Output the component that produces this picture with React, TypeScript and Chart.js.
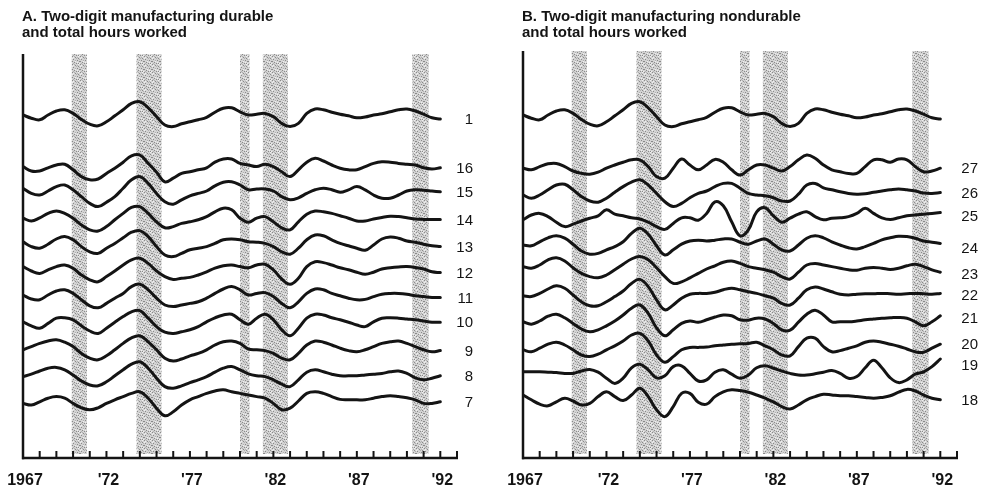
import { useEffect, useRef } from "react";
import { Chart, registerables } from "chart.js";

Chart.register(...registerables);

// Half-year sample grid shared by every series, 1967.0 … 1992.0
const YEARS: number[] = Array.from({ length: 51 }, (_, i) => 1967 + i * 0.5);

// Recession periods (shaded bands), in fractional years
const RECESSION_START = [1969.92, 1973.8, 1980.0, 1981.37, 1990.32];
const RECESSION_END = [1970.83, 1975.3, 1980.57, 1982.87, 1991.3];

// Axis ticks and labels
const TICK_YEARS: number[] = Array.from({ length: 26 }, (_, i) => 1968 + i);
const LABEL_YEARS = [1967, 1972, 1977, 1982, 1987, 1992];
const LABEL_TEXT = ["1967", "'72", "'77", "'82", "'87", "'92"];

// Stacked cyclical hours-worked indexes (arbitrary stacked units)
const TOTAL = [85.5, 84.7, 84.3, 85.5, 86.5, 86.8, 85.9, 84.4, 83.2, 82.8, 83.8, 85.3, 86.8, 88.4, 88.8, 87.3, 85.1, 83.0, 82.6, 83.3, 83.8, 84.3, 84.9, 86.2, 87.2, 87.3, 86.3, 85.5, 85.7, 85.9, 85.1, 83.4, 82.6, 83.4, 85.9, 87.0, 86.8, 86.2, 85.7, 85.3, 84.8, 85.0, 85.5, 85.8, 86.3, 86.8, 87.0, 86.5, 85.7, 84.8, 84.5];

// Durable goods industries
const S16 = [72.6, 71.5, 71.5, 72.3, 73.0, 73.2, 71.8, 70.1, 69.3, 69.5, 70.9, 72.2, 73.7, 75.3, 75.5, 73.4, 71.2, 68.8, 69.7, 70.9, 71.3, 71.8, 72.3, 73.7, 74.5, 74.5, 73.4, 73.0, 72.6, 73.2, 72.6, 71.3, 70.1, 71.8, 73.7, 74.7, 74.0, 73.0, 72.2, 71.8, 71.8, 72.6, 73.4, 73.8, 73.7, 73.4, 73.2, 73.0, 72.3, 72.0, 72.3];
const S15 = [67.2, 65.9, 65.5, 66.5, 67.6, 68.0, 66.8, 65.1, 63.4, 62.6, 63.7, 65.1, 67.2, 69.3, 70.1, 68.4, 65.9, 63.8, 63.2, 64.3, 65.3, 65.9, 66.5, 67.8, 68.7, 68.8, 68.0, 66.8, 67.0, 67.0, 66.5, 65.1, 64.3, 64.8, 65.9, 66.8, 67.2, 66.8, 66.2, 66.8, 67.6, 66.8, 65.5, 64.7, 64.7, 65.5, 66.5, 66.8, 66.7, 66.5, 66.3];
const S14 = [59.7, 59.0, 59.8, 60.9, 61.5, 60.9, 59.7, 58.0, 56.8, 56.5, 57.6, 59.3, 60.9, 62.4, 62.6, 60.9, 58.8, 57.3, 57.6, 58.4, 58.8, 59.3, 60.1, 61.3, 62.2, 61.8, 59.7, 58.7, 59.7, 60.1, 58.8, 57.3, 56.8, 58.8, 60.7, 61.5, 61.3, 60.9, 60.3, 59.7, 59.0, 59.0, 59.5, 59.9, 60.2, 60.1, 59.8, 59.5, 59.4, 59.4, 59.4];
const S13 = [53.8, 52.6, 52.2, 53.2, 54.5, 55.1, 54.3, 52.6, 51.3, 50.9, 52.2, 53.4, 54.8, 56.2, 56.6, 55.1, 52.6, 50.5, 50.1, 50.9, 51.8, 52.2, 52.6, 53.4, 54.3, 54.5, 54.3, 53.8, 53.7, 53.4, 52.6, 51.3, 50.7, 52.2, 54.3, 55.5, 55.3, 54.3, 53.4, 52.8, 52.2, 51.7, 53.0, 54.5, 55.0, 54.7, 54.0, 53.7, 53.2, 52.8, 52.6];
const S12 = [47.6, 46.5, 45.9, 46.8, 47.6, 48.0, 47.2, 45.5, 44.3, 43.8, 45.1, 46.5, 48.0, 49.3, 49.7, 48.4, 46.5, 45.1, 44.4, 44.7, 44.9, 45.5, 46.3, 47.2, 47.8, 48.0, 47.6, 47.3, 48.0, 48.2, 46.8, 44.5, 43.2, 44.7, 47.6, 48.8, 48.6, 48.0, 47.3, 46.8, 46.2, 45.7, 46.2, 47.0, 47.3, 47.5, 47.6, 47.4, 47.0, 46.3, 46.1];
const S11 = [40.5, 39.5, 39.3, 40.5, 41.5, 41.8, 40.9, 39.3, 37.8, 37.3, 38.4, 39.7, 40.9, 42.6, 43.2, 41.8, 39.7, 38.0, 37.6, 38.0, 38.4, 38.8, 39.7, 40.9, 42.0, 42.6, 41.8, 40.5, 40.9, 41.1, 40.1, 38.4, 37.3, 38.8, 40.9, 42.0, 41.8, 40.9, 40.3, 39.7, 39.3, 39.4, 40.1, 40.7, 40.9, 40.9, 40.7, 40.3, 40.1, 39.9, 39.9];
const S10 = [33.8, 32.8, 32.2, 33.4, 34.7, 34.8, 34.3, 32.8, 31.5, 30.9, 32.2, 33.7, 35.1, 36.3, 36.6, 34.7, 32.6, 31.2, 30.9, 31.3, 31.8, 32.6, 33.8, 34.8, 35.5, 35.7, 34.3, 33.2, 34.7, 35.7, 34.3, 31.8, 30.3, 32.2, 34.7, 35.7, 35.5, 34.8, 34.3, 33.7, 33.0, 32.6, 33.8, 34.7, 34.8, 34.7, 34.5, 34.3, 34.0, 33.7, 33.7];
const S9 = [26.8, 27.6, 28.4, 29.0, 29.3, 28.7, 27.6, 25.9, 24.7, 24.3, 25.3, 26.8, 28.4, 29.8, 30.3, 28.8, 26.8, 24.7, 24.0, 24.5, 25.3, 25.9, 26.8, 28.0, 28.8, 29.0, 28.4, 27.0, 26.8, 26.6, 25.9, 24.7, 24.3, 25.9, 28.0, 29.0, 28.7, 28.0, 27.2, 26.6, 26.3, 26.8, 27.6, 28.4, 28.8, 29.0, 28.4, 27.6, 26.8, 26.3, 26.6];
const S8 = [20.1, 20.7, 21.5, 22.2, 22.4, 21.8, 20.5, 19.0, 18.0, 17.8, 18.8, 20.3, 21.8, 23.2, 23.8, 22.2, 19.7, 17.6, 17.2, 17.8, 18.6, 19.3, 20.1, 21.2, 22.2, 22.6, 21.8, 20.8, 20.3, 20.1, 19.3, 18.2, 17.6, 19.3, 21.2, 21.8, 21.3, 20.7, 20.3, 20.3, 20.3, 20.5, 20.7, 20.9, 21.3, 21.5, 20.9, 19.8, 19.3, 19.7, 20.3];
const S7 = [13.4, 13.0, 13.8, 14.7, 15.1, 14.7, 13.4, 12.3, 11.8, 12.3, 13.4, 14.3, 15.1, 15.9, 16.3, 14.7, 12.2, 10.3, 11.3, 13.0, 14.3, 15.1, 15.9, 16.5, 16.8, 16.3, 15.9, 15.5, 15.1, 14.7, 13.4, 11.8, 12.2, 14.0, 15.9, 16.3, 15.9, 15.1, 14.4, 14.3, 14.3, 14.3, 14.7, 15.1, 15.3, 15.1, 14.8, 14.3, 13.4, 13.4, 13.8];

// Nondurable goods industries
const S27 = [72.2, 71.8, 72.6, 73.3, 73.4, 72.6, 71.5, 70.9, 70.7, 71.2, 72.2, 73.0, 73.7, 74.3, 74.3, 72.6, 70.1, 69.7, 72.2, 74.5, 73.0, 71.8, 73.0, 74.4, 73.7, 71.8, 70.5, 71.8, 73.0, 73.0, 72.2, 71.5, 72.6, 74.3, 75.5, 74.7, 73.0, 71.8, 71.3, 70.9, 70.9, 72.6, 74.3, 74.3, 73.7, 74.5, 74.3, 72.6, 71.3, 71.5, 72.2];
const S26 = [65.5, 64.7, 65.5, 66.8, 68.0, 68.2, 66.8, 65.1, 64.0, 63.7, 64.7, 66.2, 67.6, 68.7, 69.3, 68.0, 65.9, 63.8, 62.6, 63.4, 64.8, 65.9, 66.5, 67.6, 68.4, 68.4, 67.2, 65.9, 65.5, 65.3, 64.8, 64.0, 64.0, 65.7, 68.0, 68.4, 67.3, 66.8, 66.3, 65.9, 65.7, 65.8, 66.2, 66.5, 66.8, 67.0, 66.8, 66.5, 66.0, 65.9, 66.1];
const S25 = [59.3, 60.5, 60.9, 60.1, 58.7, 57.6, 58.2, 59.0, 59.7, 60.3, 61.8, 60.7, 60.3, 59.8, 59.5, 58.7, 57.6, 56.9, 58.4, 59.8, 59.8, 59.2, 60.9, 63.8, 62.8, 58.8, 55.3, 56.8, 61.3, 62.3, 60.3, 58.7, 59.7, 60.7, 61.3, 60.1, 59.3, 59.7, 59.8, 60.1, 60.9, 62.2, 60.9, 59.8, 59.4, 59.8, 60.3, 60.5, 60.7, 60.9, 61.1];
const S24 = [53.0, 52.8, 53.8, 54.8, 55.3, 54.7, 53.2, 51.5, 50.7, 50.9, 51.8, 52.6, 53.8, 55.9, 57.2, 55.7, 52.8, 50.5, 51.8, 53.2, 54.0, 54.2, 54.0, 54.2, 54.5, 54.5, 53.7, 53.2, 54.0, 54.5, 53.2, 51.8, 51.5, 53.0, 54.7, 55.3, 54.8, 53.8, 53.0, 52.3, 52.0, 52.6, 53.4, 54.3, 54.8, 55.2, 55.1, 54.7, 54.0, 53.7, 53.4];
const S23 = [47.6, 47.2, 48.0, 49.3, 49.8, 49.0, 47.3, 45.9, 45.1, 44.8, 45.5, 46.8, 48.2, 49.5, 50.1, 49.3, 47.3, 45.1, 43.4, 43.8, 44.8, 45.9, 47.0, 47.8, 48.7, 49.0, 48.4, 47.6, 47.2, 46.8, 46.2, 45.1, 44.5, 46.2, 48.0, 48.4, 48.0, 47.6, 47.2, 46.8, 46.7, 47.2, 47.4, 47.2, 46.9, 47.2, 47.8, 48.2, 47.6, 46.8, 46.2];
const S22 = [40.3, 40.1, 40.9, 42.0, 42.8, 42.2, 40.5, 38.8, 37.8, 37.8, 38.8, 40.1, 41.5, 43.4, 44.4, 42.6, 39.3, 36.8, 38.0, 39.7, 40.7, 40.9, 40.9, 41.2, 41.8, 42.2, 41.8, 41.3, 40.9, 40.3, 39.7, 38.4, 38.0, 39.7, 41.8, 42.5, 42.0, 41.3, 40.7, 40.5, 40.7, 40.8, 40.8, 40.9, 40.8, 40.7, 40.8, 40.9, 40.8, 40.7, 40.9];
const S21 = [33.8, 33.2, 34.0, 35.2, 35.7, 34.8, 33.4, 32.0, 31.3, 31.8, 32.8, 34.0, 35.5, 37.2, 38.0, 35.9, 32.3, 30.3, 31.8, 33.4, 34.0, 33.7, 34.3, 35.0, 35.5, 35.3, 34.3, 34.2, 34.7, 34.5, 33.4, 31.8, 31.7, 33.7, 35.7, 36.7, 35.5, 33.8, 33.8, 33.8, 34.0, 34.3, 34.5, 34.7, 34.8, 34.9, 34.7, 33.8, 32.8, 33.8, 35.3];
const S20 = [26.8, 26.3, 27.2, 28.2, 28.7, 28.0, 26.8, 25.5, 25.1, 25.7, 26.8, 27.8, 29.0, 30.5, 30.9, 29.0, 25.5, 23.7, 25.1, 26.8, 27.4, 27.4, 27.5, 27.8, 28.0, 28.2, 28.3, 28.4, 28.7, 27.8, 26.8, 25.5, 25.3, 27.6, 29.7, 29.7, 27.6, 26.3, 26.6, 27.2, 27.8, 28.7, 29.0, 28.7, 28.2, 27.7, 27.0, 26.3, 26.2, 27.2, 28.2];
const S19 = [21.3, 21.3, 21.3, 21.2, 21.1, 20.9, 20.9, 21.5, 21.9, 21.2, 19.7, 18.4, 19.7, 22.3, 23.2, 21.8, 19.8, 20.3, 22.6, 22.8, 20.9, 19.0, 19.3, 21.2, 21.8, 20.7, 19.7, 20.5, 22.3, 22.8, 22.2, 21.5, 20.9, 20.5, 20.5, 20.8, 21.2, 21.6, 20.9, 19.7, 20.1, 22.3, 24.2, 22.3, 19.8, 18.6, 19.3, 20.7, 21.3, 22.6, 24.5];
const S18 = [15.5, 14.3, 13.2, 12.8, 13.8, 14.7, 14.0, 13.0, 13.4, 15.1, 16.3, 15.1, 14.1, 15.5, 17.2, 15.1, 11.8, 10.1, 12.6, 15.9, 15.9, 13.7, 13.2, 15.1, 16.3, 16.8, 16.6, 16.2, 15.5, 14.7, 13.8, 12.6, 12.0, 13.0, 14.3, 15.1, 15.7, 15.5, 15.3, 15.3, 15.1, 14.9, 14.7, 14.9, 15.3, 16.2, 16.9, 16.5, 15.5, 14.7, 14.3];

const DURABLE_IDS = ["1", "16", "15", "14", "13", "12", "11", "10", "9", "8", "7"];
const DURABLE_SERIES = [TOTAL, S16, S15, S14, S13, S12, S11, S10, S9, S8, S7];
const NONDURABLE_IDS = ["", "27", "26", "25", "24", "23", "22", "21", "20", "19", "18"];
const NONDURABLE_SERIES = [TOTAL, S27, S26, S25, S24, S23, S22, S21, S20, S19, S18];

const TITLE_A = ["A. Two-digit manufacturing durable", "and total hours worked"];
const TITLE_B = ["B. Two-digit manufacturing nondurable", "and total hours worked"];

const FONT = '"Liberation Sans", Arial, Helvetica, sans-serif';
const INK = "#141414";

// Identifier text sits a few pixels below some crowded line ends
const B_LABEL_NUDGE = [0, 0, 0, 3, 4, 2, 1, 2, 0, 6, 0];
const A_LABEL_NUDGE = [0, 0, 0, 0, 0, 0, 0, 0, 0, 0, 0];

let stipple: CanvasPattern | null = null;
function getStipple(ctx: CanvasRenderingContext2D): CanvasPattern | string {
  if (stipple) return stipple;
  const c = document.createElement("canvas");
  c.width = 8;
  c.height = 8;
  const p = c.getContext("2d");
  if (!p) return "#cccccc";
  p.fillStyle = "#d3d3d3";
  p.fillRect(0, 0, 8, 8);
  p.fillStyle = "#8a8a8a";
  [[0, 0], [3, 1], [6, 2], [1, 3], [5, 4], [2, 6], [7, 5], [4, 7], [6, 7], [0, 5]].forEach(([x, y]) => p.fillRect(x, y, 1, 1));
  p.fillStyle = "#b0b0b0";
  [[2, 0], [5, 1], [7, 3], [3, 4], [1, 7], [4, 2]].forEach(([x, y]) => p.fillRect(x, y, 1, 1));
  p.fillStyle = "#f0f0f0";
  [[1, 1], [6, 0], [3, 5], [5, 6], [0, 2], [7, 7]].forEach(([x, y]) => p.fillRect(x, y, 1, 1));
  stipple = ctx.createPattern(c, "repeat");
  return stipple || "#cccccc";
}

const panelPlugin = {
  id: "panelDecor",
  beforeDatasetsDraw(chart: any, _args: any, opts: any) {
    const { ctx, chartArea: a, scales } = chart;
    const x = scales.x;
    const top = a.top + opts.frameShift;
    ctx.save();
    ctx.fillStyle = getStipple(ctx);
    RECESSION_START.forEach((s, i) => {
      const x0 = x.getPixelForValue(s);
      const x1 = x.getPixelForValue(RECESSION_END[i]);
      ctx.fillRect(x0, top, x1 - x0, a.bottom - top - 3);
    });
    ctx.restore();
  },
  afterDatasetsDraw(chart: any, _args: any, opts: any) {
    const { ctx, chartArea: a, scales } = chart;
    const x = scales.x;
    const axisY = a.bottom + 1;
    const top = a.top + opts.frameShift;
    ctx.save();
    ctx.strokeStyle = INK;
    ctx.lineCap = "butt";

    // left axis
    ctx.lineWidth = 2.5;
    ctx.beginPath();
    ctx.moveTo(a.left, top);
    ctx.lineTo(a.left, axisY + 1.2);
    ctx.stroke();

    // time axis
    ctx.lineWidth = 2.6;
    ctx.beginPath();
    ctx.moveTo(a.left - 1, axisY);
    ctx.lineTo(x.getPixelForValue(1993) + 1, axisY);
    ctx.stroke();

    // yearly ticks pointing up
    ctx.lineWidth = 2;
    ctx.beginPath();
    TICK_YEARS.forEach((yr) => {
      const px = x.getPixelForValue(yr);
      ctx.moveTo(px, axisY);
      ctx.lineTo(px, axisY - 7);
    });
    ctx.stroke();

    // year labels
    ctx.fillStyle = INK;
    ctx.font = `bold 16px ${FONT}`;
    ctx.textAlign = "center";
    ctx.textBaseline = "alphabetic";
    LABEL_YEARS.forEach((yr, i) => {
      ctx.fillText(LABEL_TEXT[i], x.getPixelForValue(yr) + 2, a.bottom + 28);
    });

    // panel title
    ctx.textAlign = "left";
    ctx.font = `bold 15px ${FONT}`;
    (opts.title as string[]).forEach((line, i) => {
      ctx.fillText(line, a.left - 1, 21 + i * 16);
    });

    // series identifiers at the right end of each line
    ctx.font = `15px ${FONT}`;
    ctx.textAlign = "right";
    ctx.textBaseline = "middle";
    chart.data.datasets.forEach((ds: any, i: number) => {
      if (!ds.label) return;
      const pts = chart.getDatasetMeta(i).data;
      const last = pts[pts.length - 1];
      ctx.fillText(ds.label, a.right + opts.labelOffset, last.y + 1 + (opts.nudge[i] || 0));
    });
    ctx.restore();
  },
};

function buildConfig(ids: string[], series: number[][], title: string[], pad: any, labelOffset: number, nudge: number[], frameShift: number): any {
  return {
    type: "line",
    data: {
      datasets: series.map((vals, i) => ({
        label: ids[i],
        data: vals.map((v, j) => ({ x: YEARS[j], y: v })),
        borderColor: INK,
        borderWidth: 3,
        pointRadius: 0,
        tension: 0.4,
        fill: false,
        borderCapStyle: "round",
        borderJoinStyle: "round",
      })),
    },
    options: {
      responsive: false,
      animation: false,
      events: [],
      layout: { padding: pad },
      scales: {
        x: { type: "linear", min: 1967, max: 1993, display: false },
        y: { type: "linear", min: 0, max: 101, display: false },
      },
      plugins: {
        legend: { display: false },
        tooltip: { enabled: false },
        title: { display: false },
        panelDecor: { title, labelOffset, nudge, frameShift },
      },
    },
    plugins: [panelPlugin],
  };
}

function Panel(props: { left: number; width: number; ids: string[]; series: number[][]; title: string[]; pad: any; labelOffset: number; nudge: number[]; frameShift: number }) {
  const ref = useRef<HTMLCanvasElement | null>(null);
  useEffect(() => {
    if (!ref.current) return;
    const chart = new Chart(
      ref.current,
      buildConfig(props.ids, props.series, props.title, props.pad, props.labelOffset, props.nudge, props.frameShift)
    );
    return () => chart.destroy();
  }, []);
  return (
    <canvas
      ref={ref}
      width={props.width}
      height={488}
      style={{ position: "absolute", left: props.left, top: 0, width: props.width, height: 488 }}
    />
  );
}

export default function App() {
  return (
    <div style={{ position: "fixed", left: 0, top: 0, width: 985, height: 488, background: "#ffffff" }}>
      <Panel
        left={0}
        width={492}
        ids={DURABLE_IDS}
        series={DURABLE_SERIES}
        title={TITLE_A}
        pad={{ left: 23, right: 35, top: 53, bottom: 31 }}
        labelOffset={16}
        nudge={A_LABEL_NUDGE}
        frameShift={1}
      />
      <Panel
        left={492}
        width={493}
        ids={NONDURABLE_IDS}
        series={NONDURABLE_SERIES}
        title={TITLE_B}
        pad={{ left: 31, right: 28, top: 53, bottom: 31 }}
        labelOffset={21}
        nudge={B_LABEL_NUDGE}
        frameShift={-2}
      />
    </div>
  );
}
